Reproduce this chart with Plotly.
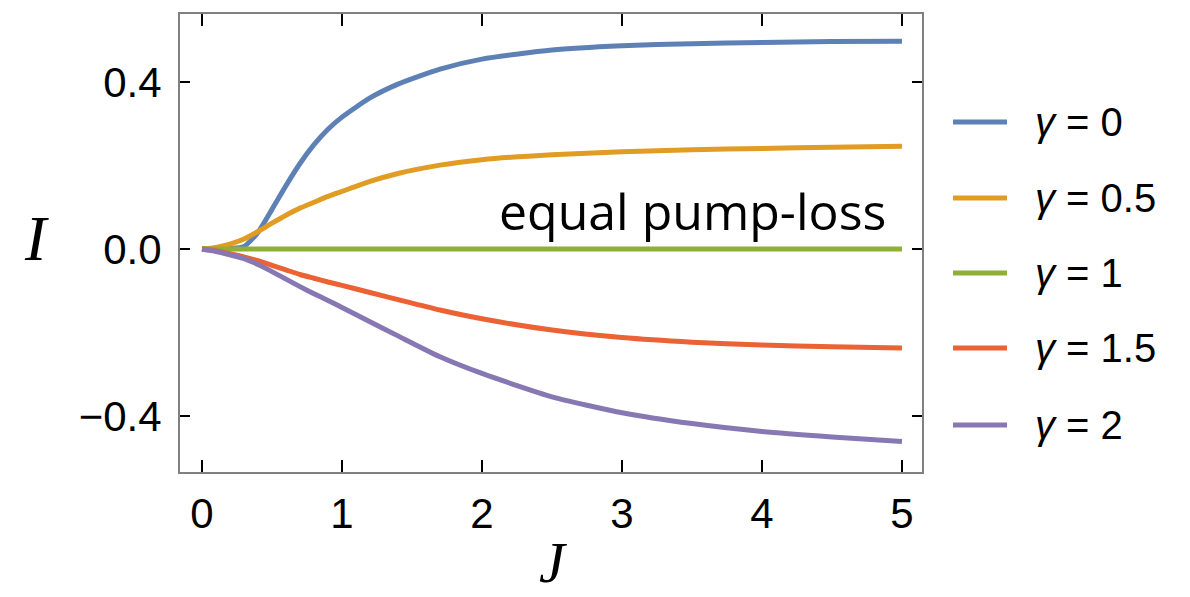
import plotly.graph_objects as go

# Coupling strength J (shared sample points)
J = [0, 0.1, 0.2, 0.3, 0.4, 0.5, 0.6, 0.7, 0.8, 0.9, 1.0, 1.2, 1.4, 1.7, 2.0, 2.5, 3.0, 3.5, 4.0, 4.5, 5.0]

# Current I for each pump/loss ratio gamma
I_g0 = [0, 0, 0.001, 0.006, 0.040, 0.095, 0.152, 0.205, 0.250, 0.287, 0.316, 0.362, 0.395, 0.431, 0.455, 0.477, 0.487, 0.492, 0.495, 0.497, 0.498]
I_g05 = [0, 0.004, 0.012, 0.024, 0.042, 0.062, 0.081, 0.098, 0.112, 0.126, 0.138, 0.162, 0.181, 0.201, 0.214, 0.226, 0.233, 0.238, 0.241, 0.244, 0.246]
I_g1 = [0] * len(J)
I_g15 = [0, -0.004, -0.011, -0.019, -0.028, -0.039, -0.050, -0.061, -0.070, -0.079, -0.087, -0.104, -0.121, -0.146, -0.167, -0.194, -0.212, -0.223, -0.230, -0.234, -0.237]
I_g2 = [0, -0.006, -0.014, -0.023, -0.037, -0.054, -0.072, -0.090, -0.107, -0.123, -0.140, -0.174, -0.208, -0.258, -0.298, -0.354, -0.392, -0.418, -0.437, -0.450, -0.461]

series_names = ["0", "0.5", "1", "1.5", "2"]
series_values = [I_g0, I_g05, I_g1, I_g15, I_g2]
colors = ["#5E81B5", "#E19C24", "#8FB032", "#EB6235", "#8778B3"]

x_ticks = [0, 1, 2, 3, 4, 5]
y_ticks = [-0.4, 0.0, 0.4]
y_tick_text = ["\u22120.4", "0.0", "0.4"]

fig = go.Figure()
for name, vals, col in zip(series_names, series_values, colors):
    fig.add_trace(go.Scatter(
        x=J, y=vals, mode="lines",
        line=dict(color=col, width=5, shape="spline", smoothing=0.6),
        name=f"\u03b3 = {name}", showlegend=False,
    ))

axis_common = dict(
    showgrid=False, zeroline=False, mirror="ticks", showline=True,
    linecolor="#808080", linewidth=2, ticks="inside", tickcolor="#000000",
    tickwidth=2, tickfont=dict(family="Liberation Sans, Arial", size=42, color="#000000"),
)

fig.update_xaxes(range=[-0.157, 5.143], tickvals=x_ticks, ticklen=12,
                 ticklabelstandoff=4, **axis_common)
fig.update_yaxes(range=[-0.534, 0.563], tickvals=y_ticks, ticktext=y_tick_text,
                 ticklen=10, ticklabelstandoff=8, **axis_common)

# Key on the right: a short coloured stroke plus label per gamma
key_y = [0.764, 0.598, 0.4345, 0.2707, 0.1026]
for name, col, ky in zip(series_names, colors, key_y):
    fig.add_shape(type="line", xref="paper", yref="paper",
                  x0=1.0418, x1=1.1146, y0=ky, y1=ky,
                  line=dict(color=col, width=5))
    fig.add_annotation(x=1.1496, y=ky, xref="paper", yref="paper",
                       xanchor="left", yanchor="middle", showarrow=False,
                       text=f"<i>\u03b3</i> = {name}",
                       font=dict(family="Liberation Sans, Arial", size=40, color="#000000"))

fig.add_annotation(x=4.9, y=0.0, xref="x", yref="y", xanchor="right", yanchor="bottom",
                   yshift=2, text="equal pump-loss", showarrow=False,
                   font=dict(family="Open Sans", size=50, color="#000000"))

# axis titles
fig.add_annotation(x=(36 - 180) / 742, y=0.51, xref="paper", yref="paper",
                   xanchor="center", yanchor="middle", text="<i>I</i>",
                   showarrow=False,
                   font=dict(family="Liberation Serif, Times New Roman", size=64, color="#000000"))
fig.add_annotation(x=0.5036, y=-125 / 458, xref="paper", yref="paper",
                   xanchor="center", yanchor="bottom", text="<i>J</i>",
                   showarrow=False,
                   font=dict(family="Liberation Serif, Times New Roman", size=58, color="#000000"))

fig.update_layout(
    width=1190, height=597,
    margin=dict(l=180, r=268, t=14, b=125),
    paper_bgcolor="white", plot_bgcolor="white",
    showlegend=False,
)

fig.write_html("out.html")
